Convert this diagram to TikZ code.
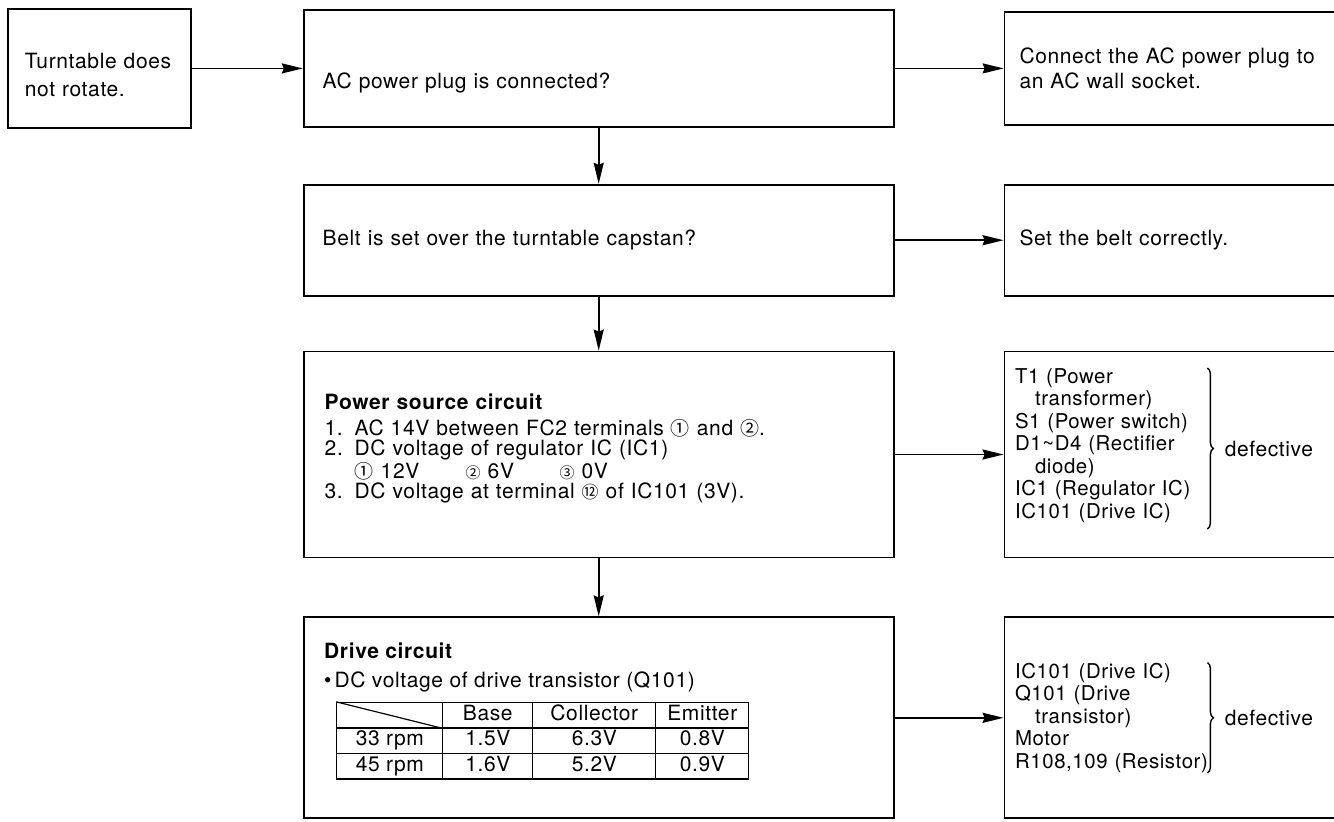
\documentclass[tikz,border=0pt]{standalone}
\usepackage{fontspec}
\setmainfont{TeX Gyre Heros}[LetterSpace=3]
\newfontfamily\cjkfont{Noto Sans CJK JP}
\usetikzlibrary{arrows.meta, positioning, decorations.pathreplacing, matrix}
\newcommand{\cnum}[2][9.5]{{\cjkfont\fontsize{#1}{#1}\selectfont #2}}

\begin{document}
\begin{tikzpicture}[node distance=28pt and 54.5pt,
  flowbox/.style={draw, line width=0.9pt, align=left, inner ysep=0pt,
    font=\fontsize{10.5}{12.5}\selectfont},
  mainbox/.style={flowbox, minimum width=295pt, text width=276pt, inner xsep=9.5pt},
  sidebox/.style={flowbox, minimum width=166pt, text width=151pt, inner xsep=7.5pt},
  parts/.style={align=left, text width=96pt, inner sep=0pt,
    font=\fontsize{10.2}{11.25}\selectfont},
  curly/.style={decorate, decoration={brace, amplitude=3pt}, line width=0.7pt},
  arr/.style={-{Stealth[length=10.5pt, width=5pt, inset=1pt]}, line width=0.85pt},
  valtable/.style={matrix of nodes, nodes in empty cells, inner sep=0pt,
    column sep=-0.6pt, row sep=-0.6pt,
    nodes={draw, line width=0.6pt, minimum height=12.75pt, inner sep=0pt,
      text height=7pt, text depth=2pt, font=\fontsize{10.5}{12}\selectfont},
    column 1/.style={nodes={minimum width=53pt}},
    column 2/.style={nodes={minimum width=45pt}},
    column 3/.style={nodes={minimum width=61.5pt}},
    column 4/.style={nodes={minimum width=46.5pt}}}]

  \useasboundingbox (0,0) rectangle (667pt,-410.5pt);

  % question column
  \node[flowbox, anchor=north west, minimum width=91.5pt, minimum height=59.5pt,
    text width=74.5pt, inner xsep=8.5pt, font=\fontsize{10.5}{14}\selectfont]
    (turn) at (3.5pt,-4pt) {\rule{0pt}{14.5pt}Turntable does\\not rotate.};
  \node[mainbox, minimum height=58.5pt, right=55.5pt of turn] (plug)
    {\rule{0pt}{22pt}AC power plug is connected?};
  \node[mainbox, minimum height=55.5pt, below=28pt of plug] (belt)
    {Belt is set over the turntable capstan?};
  \node[mainbox, minimum height=103pt, text width=274pt, inner xsep=10.5pt,
    font=\fontsize{10.5}{10}\selectfont, below=27pt of belt] (power)
    {\textbf{Power source circuit}\\[3pt]
     \makebox[15pt][l]{1.}AC 14V between FC2 terminals \cnum{①} and \cnum{②}.\\
     \makebox[15pt][l]{2.}DC voltage of regulator IC (IC1)\\
     \makebox[15pt][l]{}\makebox[55.5pt][l]{\cnum{①} 12V}\makebox[47pt][l]{\cnum[7.5]{②} 6V}\cnum[7.5]{③} 0V\\
     \makebox[15pt][l]{3.}DC voltage at terminal \cnum[8.5]{⑫} of IC101 (3V).\rule[-8.5pt]{0pt}{8.5pt}};
  \node[mainbox, minimum height=100.5pt, below=29pt of power] (drive) {};
  \node[anchor=north west, align=left, inner sep=0pt, font=\fontsize{10.5}{14.5}\selectfont,
    below right=13pt and 10.5pt of drive.north west] (drivetxt)
    {\textbf{Drive circuit}\\\textbullet\hspace{1.5pt}DC voltage of drive transistor (Q101)};
  \matrix (tbl) [valtable, below right=4.5pt and 6pt of drivetxt.south west] {
           & Base & Collector & Emitter \\
    33 rpm & 1.5V & 6.3V      & 0.8V    \\
    45 rpm & 1.6V & 5.2V      & 0.9V    \\
  };
  \draw[line width=0.6pt] (tbl-1-1.north west) -- (tbl-1-1.south east);

  % remedy column
  \node[sidebox, minimum height=56.5pt, right=of plug] (plugfix)
    {Connect the AC power plug to\\an AC wall socket.};
  \node[sidebox, minimum height=55.5pt, right=of belt] (beltfix)
    {Set the belt correctly.};
  \node[sidebox, minimum height=103pt, right=of power] (powerdef) {};
  \node[parts, right=5.5pt of powerdef.west, yshift=4.5pt] (powerparts)
    {T1 (Power\\\makebox[10pt][l]{}transformer)\\S1 (Power switch)\\
     D1\textasciitilde D4 (Rectifier\\\makebox[10pt][l]{}diode)\\
     IC1 (Regulator IC)\\IC101 (Drive IC)};
  \draw[curly] (powerparts.north east) -- ([yshift=-3pt]powerparts.south east)
    node[midway, right=5pt] (powerverdict) {\fontsize{10.5}{12}\selectfont defective};
  \node[sidebox, minimum height=100.5pt, right=of drive] (drivedef) {};
  \node[parts, right=5.5pt of drivedef.west] (driveparts)
    {IC101 (Drive IC)\\Q101 (Drive\\\makebox[10pt][l]{}transistor)\\Motor\\
     R108,109 (Resistor)};
  \draw[curly] (driveparts.north east) -- (driveparts.south east)
    node[midway, right=5pt] (driveverdict) {\fontsize{10.5}{12}\selectfont defective};

  \draw[arr] (turn.east) -- (plug.west);
  \draw[arr] (plug.east) -- (plugfix.west);
  \draw[arr] (plug.south) -- (belt.north);
  \draw[arr] (belt.east) -- (beltfix.west);
  \draw[arr] (belt.south) -- (power.north);
  \draw[arr] (power.east) -- (powerdef.west);
  \draw[arr] (power.south) -- (drive.north);
  \draw[arr] (drive.east) -- (drivedef.west);

\end{tikzpicture}
\end{document}
